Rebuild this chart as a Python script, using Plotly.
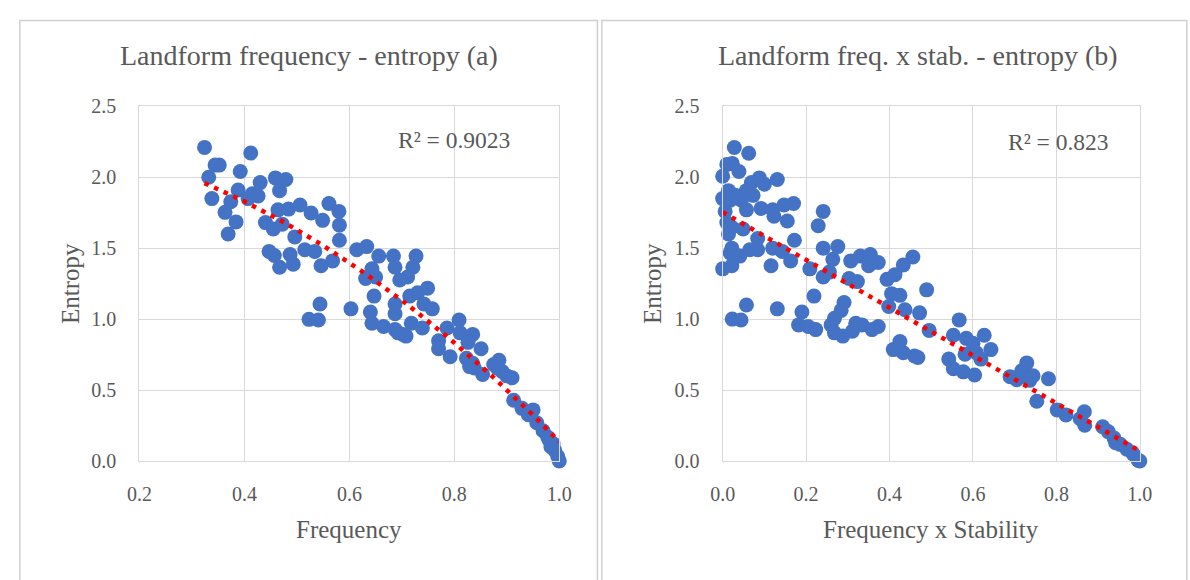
import numpy as np
import plotly.graph_objects as go

# ---------------- data ----------------
freq_a = [0.324, 0.412, 0.344, 0.352, 0.332, 0.392, 0.459, 0.479, 0.467, 0.430, 0.388, 0.338,
          0.374, 0.363, 0.407, 0.426, 0.415, 0.384, 0.369, 0.464, 0.484, 0.506, 0.527, 0.549,
          0.561, 0.580, 0.581, 0.581, 0.440, 0.455, 0.472, 0.496, 0.447, 0.457, 0.467, 0.487,
          0.493, 0.515, 0.534, 0.546, 0.568, 0.614, 0.633,
          0.656, 0.684, 0.727, 0.687, 0.721, 0.643, 0.631, 0.650, 0.696, 0.711, 0.647, 0.687,
          0.687, 0.715, 0.730, 0.749, 0.742, 0.758, 0.544, 0.603, 0.523, 0.541, 0.640, 0.643,
          0.665, 0.687, 0.702, 0.718, 0.739, 0.693, 0.708, 0.809, 0.786, 0.770, 0.770, 0.792,
          0.811, 0.835, 0.826, 0.851, 0.823, 0.835, 0.838, 0.854, 0.829,
          0.885, 0.891, 0.910, 0.882, 0.900, 0.875, 0.913, 0.929, 0.950, 0.941, 0.957, 0.969,
          0.978, 0.988, 0.991, 0.997, 1.000, 0.981, 0.984]
entropy_a = [2.21, 2.17, 2.085, 2.085, 2.00, 2.04, 1.995, 1.984, 1.905, 1.962, 1.91, 1.849,
             1.827, 1.752, 1.849, 1.867, 1.883, 1.685, 1.60, 1.77, 1.775, 1.804, 1.748, 1.696,
             1.815, 1.759, 1.662, 1.556, 1.680, 1.635, 1.669, 1.579, 1.477, 1.448, 1.365, 1.455,
             1.387, 1.489, 1.477, 1.376, 1.41, 1.489, 1.511,
             1.444, 1.444, 1.444, 1.365, 1.365, 1.354, 1.286, 1.297, 1.275, 1.297, 1.162, 1.106,
             1.038, 1.162, 1.185, 1.218, 1.106, 1.072, 1.106, 1.072, 0.998, 0.993, 1.05, 0.971,
             0.948, 0.926, 0.892, 0.971, 0.937, 0.903, 0.88, 0.993, 0.937, 0.847, 0.791, 0.734,
             0.903, 0.892, 0.836, 0.791, 0.723, 0.689, 0.655, 0.610, 0.665,
             0.71, 0.631, 0.586, 0.654, 0.60, 0.68, 0.428, 0.371, 0.36, 0.326, 0.269, 0.213,
             0.167, 0.122, 0.077, 0.032, 0.0, 0.145, 0.10]

freq_stab_b = [0.028, 0.0625, 0.010, 0.023, 0.039, 0.0, 0.088, 0.131, 0.069, 0.100, 0.014, 0.030,
               0.0, 0.018, 0.057, 0.073, 0.045, 0.057, 0.092, 0.12, 0.147, 0.170, 0.123, 0.155,
               0.006, 0.010, 0.022, 0.049, 0.014, 0.241, 0.229, 0.084, 0.172, 0.022, 0.018, 0.041,
               0.065, 0.084, 0.0, 0.022, 0.12, 0.143, 0.163, 0.116, 0.241, 0.276, 0.264, 0.209,
               0.241, 0.256, 0.307, 0.330, 0.354, 0.373, 0.303, 0.323, 0.350,
               0.023, 0.044, 0.057, 0.131, 0.190, 0.219, 0.182, 0.205, 0.223, 0.291, 0.284, 0.268,
               0.260, 0.268, 0.288, 0.319, 0.334, 0.373, 0.358, 0.311,
               0.456, 0.433, 0.413, 0.394, 0.489, 0.405, 0.425, 0.398, 0.437, 0.472, 0.495, 0.425,
               0.409, 0.433, 0.460, 0.468, 0.567, 0.553, 0.584, 0.600, 0.627, 0.643, 0.581, 0.608,
               0.619, 0.542, 0.553, 0.577, 0.604, 0.689, 0.705,
               0.717, 0.729, 0.744, 0.736, 0.781, 0.753, 0.802, 0.823, 0.857, 0.867, 0.868, 0.911,
               0.924, 0.938, 0.953, 0.969, 0.984, 0.996, 1.000, 0.942]
entropy_b = [2.209, 2.169, 2.09, 2.097, 2.04, 2.007, 1.995, 1.984, 1.962, 1.95, 1.905, 1.872,
             1.849, 1.838, 1.905, 1.872, 1.838, 1.77, 1.78, 1.77, 1.804, 1.815, 1.725, 1.691,
             1.759, 1.68, 1.646, 1.635, 1.60, 1.759, 1.658, 1.568, 1.556, 1.5, 1.466, 1.444,
             1.489, 1.489, 1.354, 1.376, 1.5, 1.477, 1.41, 1.376, 1.5, 1.511, 1.421, 1.354,
             1.297, 1.331, 1.41, 1.444, 1.455, 1.399, 1.286, 1.264, 1.376,
             1.0, 0.993, 1.099, 1.072, 1.05, 1.162, 0.959, 0.948, 0.926, 1.117, 1.061, 1.005,
             0.959, 0.903, 0.88, 0.971, 0.959, 0.948, 0.926, 0.914,
             1.437, 1.381, 1.313, 1.28, 1.206, 1.179, 1.167, 1.089, 1.066, 1.044, 0.92, 0.842,
             0.785, 0.763, 0.74, 0.729, 0.994, 0.886, 0.864, 0.83, 0.886, 0.785, 0.752, 0.763,
             0.718, 0.718, 0.65, 0.628, 0.606, 0.594, 0.572,
             0.635, 0.691, 0.601, 0.568, 0.579, 0.421, 0.36, 0.324, 0.297, 0.347, 0.252, 0.241,
             0.207, 0.162, 0.117, 0.083, 0.05, 0.005, 0.0, 0.128]

x_ticks_a = [0.2, 0.4, 0.6, 0.8, 1.0]
x_ticks_b = [0.0, 0.2, 0.4, 0.6, 0.8, 1.0]
y_ticks = [0.0, 0.5, 1.0, 1.5, 2.0, 2.5]
titles = ["Landform frequency - entropy (a)", "Landform freq. x stab. - entropy (b)"]
x_titles = ["Frequency", "Frequency x Stability"]
y_title = "Entropy"
r2_labels = ["R² = 0.9023", "R² = 0.823"]

# ---------------- styling / layout helpers ----------------
W, H = 1190, 580
FONT = "Liberation Serif"
TXT = "#595959"
GRID = "#d9d9d9"
BLUE = "#4472C4"


def px(x):
    return x / W


def py(y):
    return 1 - y / H


def trend(xv, yv, deg=2):
    coef = np.polyfit(xv, yv, deg)
    xs = np.linspace(min(xv), max(xv), 200)
    return xs, np.polyval(coef, xs)


fig = go.Figure()

panels = [
    dict(x=freq_a, y=entropy_a, xa="x", ya="y"),
    dict(x=freq_stab_b, y=entropy_b, xa="x2", ya="y2"),
]
for p in panels:
    fig.add_trace(go.Scatter(x=p["x"], y=p["y"], mode="markers", xaxis=p["xa"], yaxis=p["ya"],
                             marker=dict(size=15, color=BLUE, line=dict(width=0)),
                             cliponaxis=False, showlegend=False))
    tx, ty = trend(p["x"], p["y"])
    fig.add_trace(go.Scatter(x=tx, y=ty, mode="lines", xaxis=p["xa"], yaxis=p["ya"],
                             line=dict(color="#FF0000", width=4.5, dash="4.5px,6px"),
                             cliponaxis=False, showlegend=False))

tickfont = dict(family=FONT, size=20, color=TXT)
common_x = dict(showgrid=True, gridcolor=GRID, gridwidth=1.3, zeroline=False,
                showline=True, linecolor=GRID, linewidth=1.3, mirror=True,
                ticks="outside", ticklen=15, tickcolor="rgba(0,0,0,0)", tickfont=tickfont,
                fixedrange=True)
common_y = dict(showgrid=True, gridcolor=GRID, gridwidth=1.3, zeroline=False,
                showline=True, linecolor=GRID, linewidth=1.3, mirror=True,
                ticks="outside", ticklen=18, tickcolor="rgba(0,0,0,0)", tickfont=tickfont,
                range=[0, 2.5], tickvals=y_ticks, ticktext=[f"{v:.1f}" for v in y_ticks],
                fixedrange=True)

ydom = [py(467.7), py(99)]
fig.update_layout(
    width=W, height=580, autosize=False,
    margin=dict(l=0, r=0, t=0, b=0),
    paper_bgcolor="white", plot_bgcolor="white",
    showlegend=False,
    xaxis=dict(domain=[px(129.3), px(558.5)], range=[0.2, 1.0], anchor="y",
               tickvals=x_ticks_a, ticktext=[f"{v:.1f}" for v in x_ticks_a], **common_x),
    yaxis=dict(domain=ydom, anchor="x", **common_y),
    xaxis2=dict(domain=[px(725.5), px(1152)], range=[0.0, 1.0], anchor="y2",
                tickvals=x_ticks_b, ticktext=[f"{v:.1f}" for v in x_ticks_b], **common_x),
    yaxis2=dict(domain=ydom, anchor="x2", **common_y),
)

# panel borders
for x0, x1 in [(7, 597.5), (602, 1200)]:
    fig.add_shape(type="rect", xref="paper", yref="paper",
                  x0=px(x0), x1=px(x1), y0=py(10), y1=py(600),
                  line=dict(color="#d0d0d0", width=1.5), fillcolor="rgba(0,0,0,0)", layer="below")

ann = []
# titles
for t, cx in zip(titles, [303, 925]):
    ann.append(dict(text=t, x=px(cx), y=py(46), xref="paper", yref="paper", showarrow=False,
                    xanchor="center", yanchor="middle", font=dict(family=FONT, size=28, color=TXT)))
# x-axis titles
for t, cx in zip(x_titles, [344, 938.7]):
    ann.append(dict(text=t, x=px(cx), y=py(539), xref="paper", yref="paper", showarrow=False,
                    xanchor="center", yanchor="middle", font=dict(family=FONT, size=25, color=TXT)))
# y-axis titles
for cx in [59, 654]:
    ann.append(dict(text=y_title, x=px(cx), y=py(283), xref="paper", yref="paper", showarrow=False,
                    textangle=-90, xanchor="center", yanchor="middle",
                    font=dict(family=FONT, size=25, color=TXT)))
# R² labels
for t, cx, cy in zip(r2_labels, [451, 1069], [134, 136]):
    ann.append(dict(text=t, x=px(cx), y=py(cy), xref="paper", yref="paper", showarrow=False,
                    xanchor="center", yanchor="middle", font=dict(family=FONT, size=23.5, color=TXT)))
fig.update_layout(annotations=ann)

fig.write_html("out.html")
